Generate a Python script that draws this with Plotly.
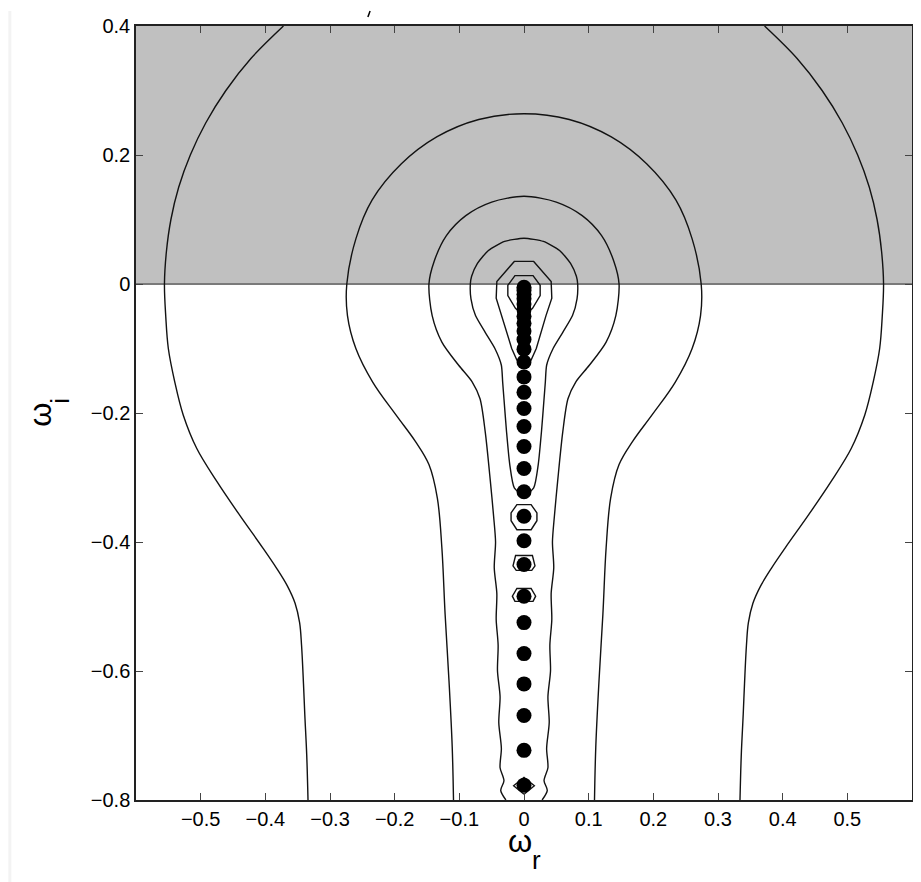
import plotly.graph_objects as go

# ---------------- data ----------------
# eigenvalues (black dots): real part 0, imaginary parts
eig_imag = [-0.005, -0.010, -0.016, -0.023, -0.031, -0.040, -0.050, -0.061,
            -0.073, -0.086, -0.101, -0.121, -0.144, -0.168, -0.193, -0.221,
            -0.252, -0.286, -0.322, -0.360, -0.398, -0.435, -0.484, -0.525,
            -0.573, -0.620, -0.669, -0.723, -0.777]
eig_real = [0.0] * len(eig_imag)

# contour lines, right half (omega_r >= 0), listed from top to bottom;
# the left half is the mirror image
c1_x = [0.372, 0.422, 0.461, 0.492, 0.516, 0.534, 0.546, 0.553, 0.556,
        0.554, 0.550, 0.540, 0.527, 0.506, 0.475, 0.440, 0.404, 0.383, 0.366,
        0.354, 0.347, 0.344, 0.341, 0.339, 0.336, 0.334]
c1_y = [0.400, 0.350, 0.300, 0.250, 0.200, 0.150, 0.100, 0.050, 0.000,
        -0.050, -0.100, -0.152, -0.203, -0.255, -0.306, -0.358, -0.409, -0.440, -0.468,
        -0.495, -0.525, -0.560, -0.620, -0.667, -0.730, -0.800]

c2_x = [0.000, 0.070, 0.135, 0.190, 0.235, 0.260, 0.274, 0.273, 0.260, 0.234,
        0.198, 0.168, 0.147, 0.134, 0.127, 0.122, 0.116, 0.111, 0.109]
c2_y = [0.264, 0.255, 0.228, 0.186, 0.130, 0.070, 0.000, -0.049, -0.100, -0.152,
        -0.203, -0.244, -0.280, -0.332, -0.409, -0.512, -0.615, -0.718, -0.800]

c3_x = [0.000, 0.050, 0.090, 0.120, 0.139, 0.147, 0.142, 0.127, 0.101, 0.080,
        0.068, 0.060, 0.052, 0.047, 0.044, 0.046, 0.042, 0.043, 0.040, 0.041,
        0.037, 0.039, 0.035, 0.037, 0.031, 0.036, 0.028]
c3_y = [0.136, 0.127, 0.106, 0.075, 0.035, 0.000, -0.049, -0.090, -0.126, -0.152,
        -0.178, -0.229, -0.306, -0.360, -0.400, -0.440, -0.480, -0.520, -0.560, -0.600,
        -0.640, -0.680, -0.720, -0.750, -0.770, -0.785, -0.800]

c4_x = [0.000, 0.030, 0.055, 0.072, 0.081, 0.083, 0.082, 0.075, 0.060, 0.045,
        0.035, 0.033, 0.031, 0.027, 0.022, 0.015, 0.000]
c4_y = [0.071, 0.066, 0.052, 0.032, 0.012, 0.000, -0.023, -0.049, -0.075, -0.100,
        -0.126, -0.152, -0.178, -0.229, -0.280, -0.316, -0.328]

c5_x = [0.000, 0.015, 0.042, 0.043, 0.034, 0.019, 0.011, 0.000]
c5_y = [0.035, 0.035, 0.004, -0.022, -0.049, -0.100, -0.118, -0.128]

c6_x = [0.000, 0.014, 0.025, 0.025, 0.013, 0.000]
c6_y = [0.013, 0.013, -0.002, -0.018, -0.038, -0.047]

# small closed contours around single eigenvalues
s1_x = [0.000, 0.011, 0.020, 0.020, 0.011, 0.000]
s1_y = [-0.342, -0.342, -0.355, -0.367, -0.381, -0.381]
s2_x = [0.000, 0.013, 0.017, 0.012, 0.000]
s2_y = [-0.421, -0.421, -0.437, -0.444, -0.444]
s3_x = [0.000, 0.011, 0.018, 0.014, 0.000]
s3_y = [-0.472, -0.472, -0.484, -0.492, -0.492]
s4_x = [0.000, 0.016, 0.000]
s4_y = [-0.765, -0.778, -0.791]

# shaded region (omega_i >= 0)
unstable_band = [0.0, 0.4]

x_ticks = [-0.5, -0.4, -0.3, -0.2, -0.1, 0.0, 0.1, 0.2, 0.3, 0.4, 0.5]
x_tick_text = ["\u22120.5", "\u22120.4", "\u22120.3", "\u22120.2", "\u22120.1", "0",
               "0.1", "0.2", "0.3", "0.4", "0.5"]
y_ticks = [-0.8, -0.6, -0.4, -0.2, 0.0, 0.2, 0.4]
y_tick_text = ["\u22120.8", "\u22120.6", "\u22120.4", "\u22120.2", "0", "0.2", "0.4"]

# ---------------- figure ----------------
# the page body has an 8 px margin, so the figure starts at screen (8, 8)
OFF = 8
W, H = 921 - OFF, 882 - OFF
PL, PT, PR, PB = 136, 23, 914, 800          # plot area on screen
ML, MT = PL - OFF, PT - OFF
MR, MB = W - (PR - OFF), H - (PB - OFF)
PW, PH = PR - PL, PB - PT


def px(xs):
    return (xs - PL) / PW


def py(ys):
    return (PB - ys) / PH


def mirrored(xs, ys):
    """Full symmetric curve: left half (bottom->top) then right half (top->bottom)."""
    if xs[0] == 0.0:
        lx = [-v for v in reversed(xs[1:])]
        ly = list(reversed(ys[1:]))
        return lx + list(xs), ly + list(ys)
    lx = [-v for v in reversed(xs)]
    ly = list(reversed(ys))
    return lx + [None] + list(xs), ly + [None] + list(ys)


fig = go.Figure()

LC = "#121212"
curves = [
    (c1_x, c1_y, "spline", 1.0),
    (c2_x, c2_y, "spline", 1.0),
    (c3_x, c3_y, "spline", 0.8),
    (c4_x, c4_y, "spline", 0.6),
    (c5_x, c5_y, "linear", 0),
    (c6_x, c6_y, "linear", 0),
    (s1_x, s1_y, "linear", 0),
    (s2_x, s2_y, "linear", 0),
    (s3_x, s3_y, "linear", 0),
    (s4_x, s4_y, "linear", 0),
]
for xs, ys, shape, sm in curves:
    fx, fy = mirrored(xs, ys)
    line = dict(color=LC, width=1.4, shape=shape)
    if shape == "spline":
        line["smoothing"] = sm
    fig.add_trace(go.Scatter(x=fx, y=fy, mode="lines", line=line,
                             hoverinfo="skip", showlegend=False))

fig.add_trace(go.Scatter(x=eig_real, y=eig_imag, mode="markers",
                         marker=dict(color="black", size=15, line=dict(width=0)),
                         showlegend=False, cliponaxis=False))

# shaded upper half plane
fig.add_shape(type="rect", xref="x domain", x0=0, x1=1, yref="y",
              y0=unstable_band[0], y1=unstable_band[1],
              fillcolor="#c0c0c0", line=dict(width=0), layer="below")

# scan border artefacts (faint left strip, stray stroke at the top)
fig.add_shape(type="rect", xref="paper", yref="paper",
              x0=px(OFF), x1=px(11), y0=py(921), y1=py(OFF),
              fillcolor="#f3f3f3", line=dict(width=0), layer="below")
fig.add_shape(type="line", xref="paper", yref="paper",
              x0=px(368.5), y0=py(14), x1=px(370.7), y1=py(OFF),
              line=dict(color="black", width=1.5))

FONT = "Liberation Sans, Arial, Helvetica, sans-serif"
axis_common = dict(
    showline=True, linecolor="#222222", linewidth=1.5, mirror="ticks",
    ticks="inside", ticklen=7, tickwidth=1, tickcolor="#444444",
    showgrid=False,
    tickfont=dict(family=FONT, size=20, color="black"),
)
fig.update_xaxes(range=[-0.6, 0.6], tickmode="array", tickvals=x_ticks,
                 ticktext=x_tick_text, zeroline=False, **axis_common)
fig.update_yaxes(range=[-0.8, 0.4], tickmode="array", tickvals=y_ticks,
                 ticktext=y_tick_text, zeroline=True, zerolinecolor="#7a7a7a",
                 zerolinewidth=1.5, **axis_common)

# axis labels omega_r and omega_i
fig.add_annotation(text="\u03c9", xref="paper", yref="paper", x=px(520.5), y=py(842),
                   xanchor="center", yanchor="middle", showarrow=False,
                   font=dict(family=FONT, size=31, color="black"))
fig.add_annotation(text="r", xref="paper", yref="paper", x=px(538), y=py(860),
                   xanchor="center", yanchor="middle", showarrow=False,
                   font=dict(family=FONT, size=26, color="black"))
fig.add_annotation(text="\u03c9", xref="paper", yref="paper", x=px(40.5), y=py(413.5),
                   xanchor="center", yanchor="middle", showarrow=False, textangle=-90,
                   font=dict(family=FONT, size=31, color="black"))
fig.add_annotation(text="i", xref="paper", yref="paper", x=px(59), y=py(399),
                   xanchor="center", yanchor="middle", showarrow=False, textangle=-90,
                   font=dict(family=FONT, size=26, color="black"))

fig.update_layout(
    width=W, height=H,
    margin=dict(l=ML, r=MR, t=MT, b=MB),
    paper_bgcolor="white", plot_bgcolor="white",
    showlegend=False,
)

fig.write_html("out.html")
